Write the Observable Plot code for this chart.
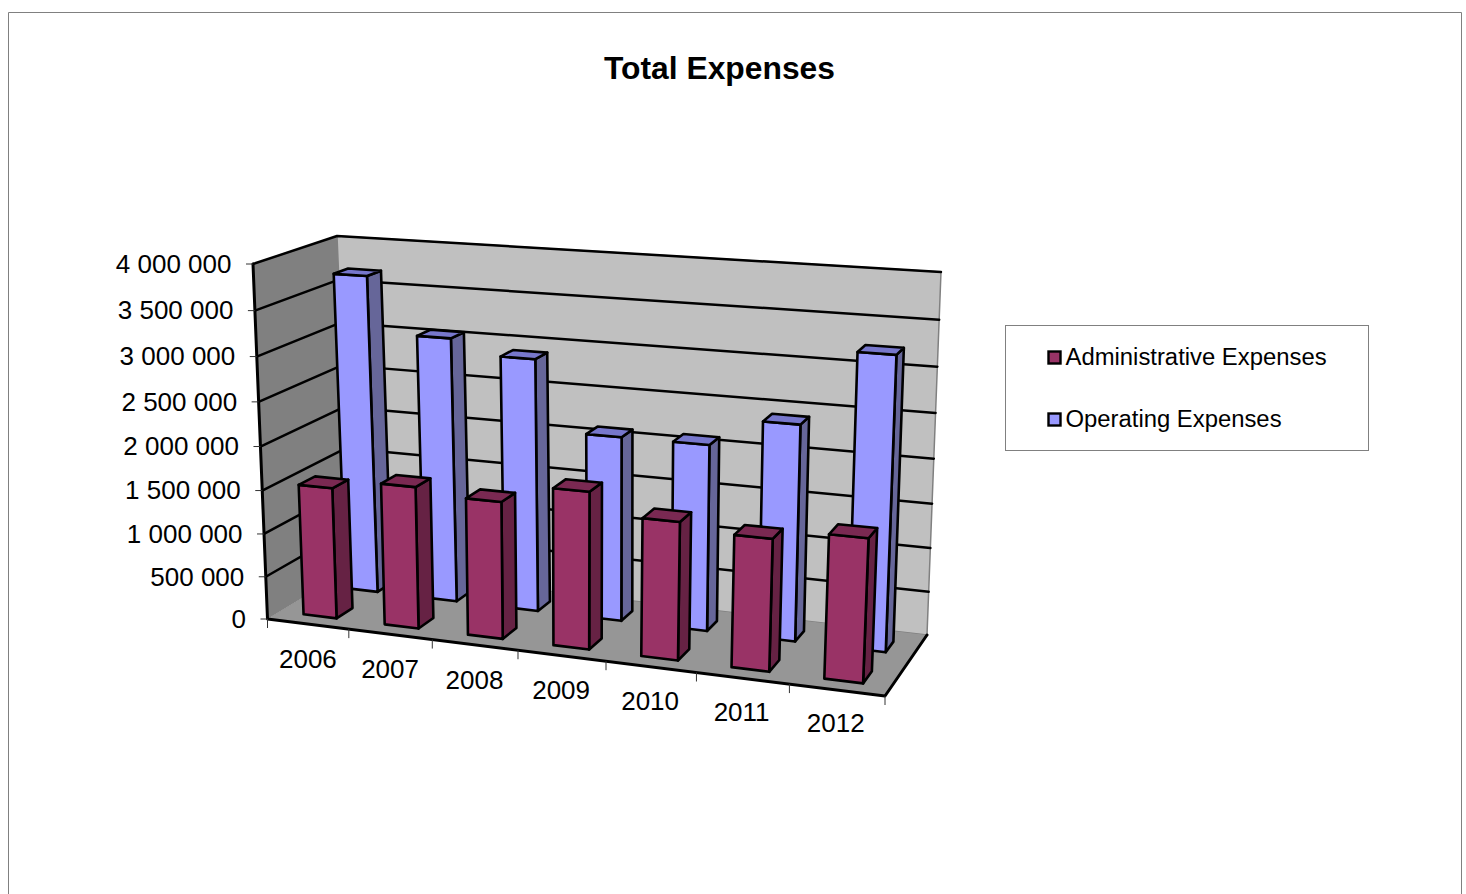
<!DOCTYPE html>
<html>
<head>
<meta charset="utf-8">
<style>
html,body{margin:0;padding:0;background:#fff;overflow:hidden}
svg{display:block}
</style>
<script src="https://cdn.jsdelivr.net/npm/d3@7"></script>
<script src="https://cdn.jsdelivr.net/npm/@observablehq/plot@0.6"></script>
</head>
<body>
<div id="chart"></div>
<script>
const chartTitle = "Total Expenses";
const years = [2006, 2007, 2008, 2009, 2010, 2011, 2012];
const adminValues = [1520000, 1630000, 1560000, 1770000, 1540000, 1460000, 1570000];
const opValues = [3700000, 3070000, 2910000, 2120000, 2120000, 2430000, 3250000];
const valueTicks = [0, 500000, 1000000, 1500000, 2000000, 2500000, 3000000, 3500000, 4000000];
const seriesNames = ["Administrative Expenses", "Operating Expenses"];
const maxValue = 4000000;

// View box of the 3D chart: [left/right][floor/top][front/back]
const corners = {
  lbf: [267, 618.5], lbb: [350.5, 568], ltf: [252.5, 263.5], ltb: [336.5, 235.5],
  rbf: [884.5, 695.5], rbb: [926.5, 634.5], rtf: [900.5, 307.5], rtb: [940.5, 271.5]
};
const warp = (t, k) => k * t / (1 + (k - 1) * t);
const mix = (a, b, t) => [a[0] + (b[0] - a[0]) * t, a[1] + (b[1] - a[1]) * t];
// category position (0..7), value, depth (0..1) -> picture position
function project(cat, value, depth) {
  const s = warp(cat / years.length, 0.91), t = warp(value / maxValue, 0.945);
  const c = corners;
  const front = mix(mix(c.lbf, c.ltf, t), mix(c.rbf, c.rtf, t), s);
  const back = mix(mix(c.lbb, c.ltb, t), mix(c.rbb, c.rtb, t), s);
  const p = mix(front, back, depth);
  return {x: p[0], y: p[1]};
}
const n = years.length;
const poly = (pts, id) => pts.map(([c, v, d]) => ({...project(c, v, d), id}));
const faceLine = (rows, fill, stroke, strokeWidth) =>
  Plot.line(rows, {x: "x", y: "y", z: "id", fill, stroke, strokeWidth, curve: "linear-closed"});

// walls and floor
const leftWall = poly([[0, 0, 0], [0, maxValue, 0], [0, maxValue, 1], [0, 0, 1]], "left");
const backWall = poly([[0, 0, 1], [0, maxValue, 1], [n, maxValue, 1], [n, 0, 1]], "back");
const floorFace = poly([[0, 0, 0], [n, 0, 0], [n, 0, 1], [0, 0, 1]], "floor");
const gridRows = valueTicks.filter(v => v > 0).flatMap(v =>
  poly([[0, v, 0], [0, v, 1], [n, v, 1]], "g" + v));

// bars
const barHalf = 0.205;
function barFaces(values, d0, d1) {
  const front = [], side = [], top = [];
  values.forEach((v, i) => {
    const a = i + 0.5 - barHalf, b = i + 0.5 + barHalf;
    front.push(...poly([[a, 0, d0], [a, v, d0], [b, v, d0], [b, 0, d0]], "f" + i));
    side.push(...poly([[b, 0, d0], [b, v, d0], [b, v, d1], [b, 0, d1]], "s" + i));
    top.push(...poly([[a, v, d0], [a, v, d1], [b, v, d1], [b, v, d0]], "t" + i));
  });
  return {front, side, top};
}
const opBars = barFaces(opValues, 0.665, 0.84);
const adminBars = barFaces(adminValues, 0.15, 0.35);
const barMarks = (f, cFront, cSide, cTop) => [
  faceLine(f.side, cSide, "#000", 2.6),
  faceLine(f.front, cFront, "#000", 2.6),
  faceLine(f.top, cTop, "#000", 2.6)
];

// axes
const valueRows = valueTicks.map(v => ({...project(0, v, 0), label: String(v).replace(/\B(?=(\d{3})+$)/g, " ")}));
const catTickRows = d3.range(n + 1).map(i => project(i, 0, 0));
const yearRows = years.map((yr, i) => {
  const p = project(i + 0.5, 0, 0);
  return {x: p.x - i * 0.2, y: p.y - i * 0.33, label: String(yr)};
});
const axisEdge = poly([[0, maxValue, 0], [0, 0, 0], [n, 0, 0], [n, 0, 1]], "axis");

const plot = Plot.plot({
  width: 1466, height: 894,
  marginTop: 0, marginRight: 0, marginBottom: 0, marginLeft: 0,
  x: {domain: [0, 1466], range: [0, 1466], axis: null},
  y: {domain: [0, 894], range: [0, 894], axis: null},
  style: {fontFamily: "'Liberation Sans', Arial, sans-serif", background: "#fff", color: "#000"},
  marks: [
    // outer chart frame (runs past the bottom of the picture)
    Plot.line([{x: 8, y: 900}, {x: 8, y: 12}, {x: 1461, y: 12}, {x: 1461, y: 900}],
      {x: "x", y: "y", stroke: "#808080", strokeWidth: 1}),
    Plot.text([chartTitle], {x: () => 719, y: () => 68, text: d => d, fontSize: 31.8, fontWeight: "bold", fill: "#000"}),
    faceLine(leftWall, "#808080", "#808080", 1),
    faceLine(backWall, "#C0C0C0", "#808080", 1.5),
    faceLine(floorFace, "#969696", "none", 0),
    Plot.line(gridRows, {x: "x", y: "y", z: "id", stroke: "#000", strokeWidth: 2.5}),
    Plot.line(axisEdge, {x: "x", y: "y", z: "id", stroke: "#000", strokeWidth: 3}),
    Plot.link(valueRows, {x1: d => d.x - 7, x2: "x", y1: "y", y2: "y", stroke: "#333", strokeWidth: 1}),
    Plot.link(catTickRows, {x1: "x", x2: "x", y1: "y", y2: d => d.y + 9, stroke: "#333", strokeWidth: 1}),
    ...barMarks(opBars, "#9999FF", "#666699", "#7777CC"),
    ...barMarks(adminBars, "#993366", "#662244", "#7A2952"),
    Plot.text(valueRows, {x: "x", y: "y", text: "label", dx: -21.5, dy: 0.5, textAnchor: "end", fontSize: 26, fill: "#000"}),
    Plot.text(yearRows, {x: "x", y: "y", text: "label", dy: 36, fontSize: 26, fill: "#000"}),
    // legend
    Plot.rect([0], {x1: () => 1005.5, x2: () => 1368.5, y1: () => 325.5, y2: () => 450.5, fill: "#fff", stroke: "#808080", strokeWidth: 1}),
    Plot.rect(seriesNames, {x1: () => 1048.5, x2: () => 1060.5, y1: (d, i) => 351.5 + i * 62, y2: (d, i) => 363.5 + i * 62,
      fill: (d, i) => ["#993366", "#9999FF"][i], stroke: "#000", strokeWidth: 2.4}),
    Plot.text(seriesNames, {x: () => 1065, y: (d, i) => 357 + i * 62, text: d => d, textAnchor: "start", fontSize: 23.85, fill: "#000"})
  ]
});
document.getElementById("chart").append(plot);
</script>
</body>
</html>
